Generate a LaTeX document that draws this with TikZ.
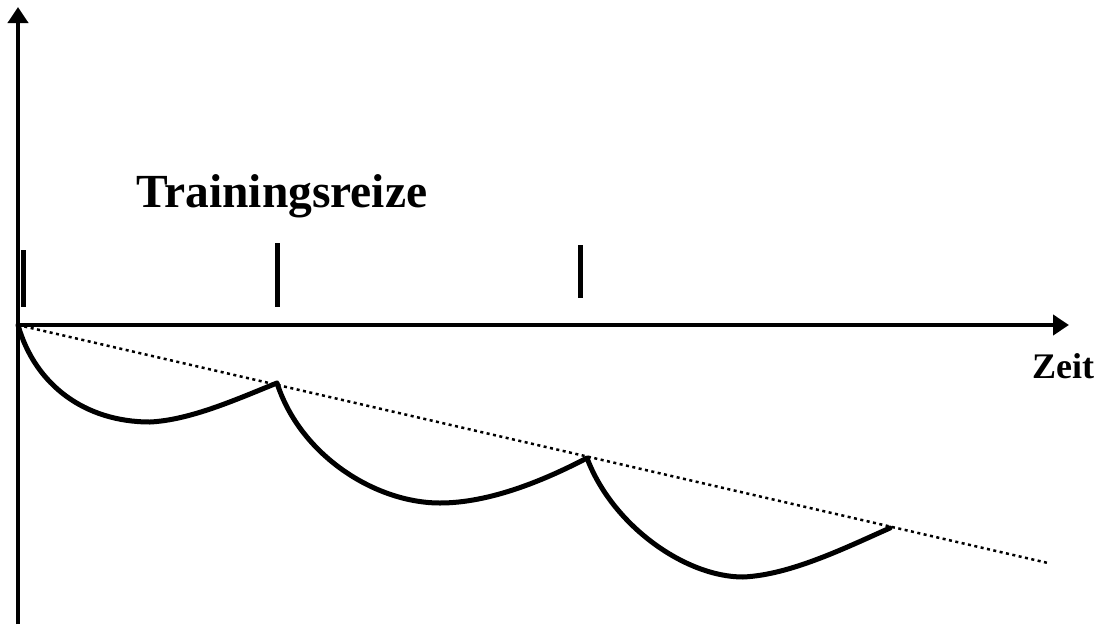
\documentclass[tikz,border=0pt]{standalone}
\usepackage{fontspec}
\setmainfont{Liberation Serif}
\usetikzlibrary{arrows.meta}
\begin{document}
\begin{tikzpicture}[x=1pt,y=-1pt,
  axis/.style={line width=4pt,-{Triangle[length=16pt,width=20pt]}},
  tickmark/.style={line width=5pt},
  curve/.style={line width=5pt,line join=round,line cap=round},
  trend/.style={line width=2.5pt,dash pattern=on 3pt off 3.5pt},
  lbl/.style={inner sep=0pt,font=\bfseries}]
\useasboundingbox (0,0) rectangle (1103,624);
% axes
\coordinate (o) at (18,325);
\coordinate (ybot) at (18,624);
\coordinate (ytop) at (18,7);
\coordinate (xend) at (1069,325);
\draw[axis] (ybot) -- (ytop);
\draw[axis] (o) -- (xend);
% labels
\node[lbl,anchor=base west,font=\bfseries\fontsize{47.5}{50}\selectfont] (title) at (136,207) {Trainingsreize};
\node[lbl,anchor=base west,font=\bfseries\fontsize{36}{40}\selectfont] (zeit) at (1032,378) {Zeit};
% stimulus ticks
\coordinate (t1a) at (23,250); \coordinate (t1b) at (23,307);
\coordinate (t2a) at (277,243); \coordinate (t2b) at (277,307);
\coordinate (t3a) at (580,245); \coordinate (t3b) at (580,298);
\draw[tickmark] (t1a) -- (t1b);
\draw[tickmark] (t2a) -- (t2b);
\draw[tickmark] (t3a) -- (t3b);
% trend line
\coordinate (tend) at (1048,563);
\draw[trend] (o) -- (tend);
% curve
\coordinate (m1) at (150,422);
\coordinate (p1) at (277,383);
\coordinate (m2) at (440,503);
\coordinate (p2) at (587,458);
\coordinate (m3) at (743,577);
\coordinate (p3) at (890,528);
\draw[curve] (o) .. controls (35,385) and (85,422) .. (m1)
  .. controls (190,420) and (235,400) .. (p1)
  .. controls (300,455) and (375,503) .. (m2)
  .. controls (490,503) and (545,480) .. (p2)
  .. controls (612,525) and (685,577) .. (m3)
  .. controls (790,575) and (845,548) .. (p3);
\end{tikzpicture}
\end{document}
